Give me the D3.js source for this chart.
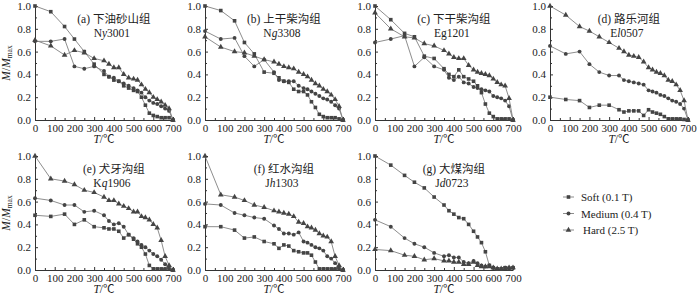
<!DOCTYPE html>
<html>
<head>
<meta charset="utf-8">
<script src="https://cdn.jsdelivr.net/npm/d3@7"></script>
<style>
  body { margin: 0; background: #fff; }
  svg text { font-family: "Liberation Serif", "Noto Sans CJK SC", serif; fill: #222; }
  .axis path, .axis line { stroke: #333; }
  .axis text { font-size: 11px; font-family: "Liberation Serif", serif; fill: #222; }
</style>
</head>
<body>
<svg id="chart" width="700" height="297"></svg>
<script>
// heating steps (deg C)
var temps = [0, 80, 150, 200, 250, 300, 350, 375, 400, 425, 450, 475, 500, 520, 540, 560, 580, 600, 620, 640, 660, 680, 700];

var panelNames = ["(a) 下油砂山组", "(b) 上干柴沟组", "(c) 下干柴沟组", "(d) 路乐河组", "(e) 犬牙沟组", "(f) 红水沟组", "(g) 大煤沟组"];
var sampleCodes = [["N", "y", "3001"], ["N", "g", "3308"], ["Eg", "", "1201"], ["E", "l", "0507"], ["K", "q", "1906"], ["J", "h", "1303"], ["J", "d", "0723"]];
var seriesNames = ["Soft (0.1 T)", "Medium (0.4 T)", "Hard (2.5 T)"];
var xTicks = [0, 100, 200, 300, 400, 500, 600, 700];
var yTicks = [0, 0.2, 0.4, 0.6, 0.8, 1.0];

var softA = [1.0, 0.95, 0.82, 0.71, 0.60, 0.49, 0.40, 0.38, 0.35, 0.34, 0.30, 0.28, 0.26, 0.25, 0.20, 0.13, 0.06, 0.04, 0.03, 0.02, 0.02, 0.02, 0];
var mediumA = [0.69, 0.69, 0.71, 0.47, 0.45, 0.47, 0.43, 0.38, 0.37, 0.34, 0.32, 0.30, 0.28, 0.26, 0.24, 0.20, 0.17, 0.15, 0.14, 0.12, 0.10, 0.08, 0];
var hardA = [0.70, 0.65, 0.57, 0.61, 0.59, 0.54, 0.52, 0.49, 0.46, 0.46, 0.40, 0.37, 0.36, 0.35, 0.31, 0.27, 0.24, 0.20, 0.18, 0.16, 0.13, 0.10, 0];

var softB = [1.0, 0.96, 0.87, 0.68, 0.58, 0.42, 0.41, 0.37, 0.34, 0.33, 0.27, 0.25, 0.25, 0.22, 0.16, 0.11, 0.05, 0.03, 0.02, 0.02, 0.02, 0.01, 0];
var mediumB = [0.78, 0.71, 0.72, 0.56, 0.47, 0.53, 0.42, 0.35, 0.34, 0.34, 0.34, 0.30, 0.28, 0.27, 0.25, 0.23, 0.21, 0.19, 0.18, 0.16, 0.13, 0.10, 0];
var hardB = [0.73, 0.64, 0.60, 0.59, 0.56, 0.53, 0.51, 0.49, 0.47, 0.46, 0.45, 0.42, 0.40, 0.38, 0.35, 0.32, 0.30, 0.27, 0.25, 0.22, 0.18, 0.12, 0];

var softC = [1.0, 0.88, 0.76, 0.73, 0.56, 0.54, 0.45, 0.40, 0.38, 0.44, 0.38, 0.36, 0.34, 0.30, 0.24, 0.14, 0.06, 0.03, 0.01, 0.01, 0.01, 0.01, 0];
var mediumC = [0.68, 0.71, 0.74, 0.47, 0.55, 0.47, 0.44, 0.37, 0.35, 0.38, 0.33, 0.32, 0.29, 0.28, 0.27, 0.26, 0.25, 0.21, 0.20, 0.19, 0.17, 0.12, 0];
var hardC = [0.94, 0.80, 0.73, 0.72, 0.67, 0.65, 0.61, 0.58, 0.55, 0.54, 0.54, 0.48, 0.44, 0.42, 0.41, 0.40, 0.39, 0.36, 0.33, 0.31, 0.30, 0.19, 0];

var softD = [0.20, 0.18, 0.17, 0.11, 0.13, 0.13, 0.09, 0.07, 0.08, 0.08, 0.08, 0.04, 0.09, 0.07, 0.06, 0.05, 0.03, 0.01, 0.01, 0.01, 0.01, 0.005, 0];
var mediumD = [0.65, 0.58, 0.60, 0.49, 0.42, 0.39, 0.39, 0.35, 0.34, 0.33, 0.32, 0.31, 0.26, 0.25, 0.24, 0.22, 0.21, 0.19, 0.17, 0.16, 0.14, 0.10, 0];
var hardD = [1.0, 0.92, 0.82, 0.78, 0.73, 0.68, 0.63, 0.60, 0.57, 0.56, 0.55, 0.51, 0.46, 0.44, 0.42, 0.41, 0.39, 0.35, 0.34, 0.31, 0.26, 0.17, 0];

var softE = [0.48, 0.47, 0.49, 0.40, 0.44, 0.38, 0.37, 0.36, 0.36, 0.34, 0.28, 0.31, 0.27, 0.23, 0.20, 0.14, 0.04, 0.01, 0.01, 0.01, 0.01, 0.01, 0];
var mediumE = [0.63, 0.61, 0.57, 0.57, 0.51, 0.52, 0.48, 0.43, 0.40, 0.41, 0.38, 0.31, 0.28, 0.25, 0.22, 0.20, 0.17, 0.14, 0.12, 0.09, 0.05, 0.02, 0];
var hardE = [1.0, 0.80, 0.78, 0.75, 0.70, 0.68, 0.64, 0.61, 0.61, 0.58, 0.56, 0.54, 0.51, 0.51, 0.47, 0.46, 0.44, 0.40, 0.37, 0.26, 0.12, 0.04, 0];

var softF = [0.38, 0.38, 0.35, 0.28, 0.29, 0.25, 0.23, 0.19, 0.22, 0.21, 0.17, 0.16, 0.15, 0.15, 0.13, 0.07, 0.01, 0.01, 0.01, 0.01, 0.01, 0.01, 0];
var mediumF = [0.58, 0.57, 0.50, 0.48, 0.46, 0.45, 0.39, 0.36, 0.32, 0.32, 0.31, 0.33, 0.25, 0.24, 0.22, 0.20, 0.19, 0.17, 0.12, 0.10, 0.06, 0.02, 0];
var hardF = [1.0, 0.66, 0.64, 0.61, 0.57, 0.55, 0.52, 0.51, 0.50, 0.49, 0.47, 0.42, 0.41, 0.38, 0.37, 0.35, 0.32, 0.30, 0.29, 0.25, 0.12, 0.04, 0];

var softG = [1.0, 0.92, 0.83, 0.77, 0.72, 0.64, 0.57, 0.52, 0.49, 0.46, 0.45, 0.40, 0.34, 0.29, 0.24, 0.16, 0.04, 0.02, 0.01, 0.01, 0.02, 0.01, 0.02];
var mediumG = [0.44, 0.38, 0.28, 0.23, 0.20, 0.15, 0.12, 0.13, 0.11, 0.11, 0.07, 0.06, 0.08, 0.06, 0.04, 0.03, 0.04, 0.02, 0.01, 0.01, 0.02, 0.02, 0.02];
var hardG = [0.18, 0.17, 0.13, 0.12, 0.09, 0.10, 0.08, 0.08, 0.07, 0.07, 0.05, 0.05, 0.07, 0.04, 0.03, 0.03, 0.03, 0.02, 0.01, 0.01, 0.01, 0.02, 0.02];

var panelData = [
  [softA, mediumA, hardA], [softB, mediumB, hardB], [softC, mediumC, hardC], [softD, mediumD, hardD],
  [softE, mediumE, hardE], [softF, mediumF, hardF], [softG, mediumG, hardG]
];

// layout
var colX = [35, 205, 375, 550];
var rowY = [6, 156];
var pw = 138, ph = 114;

var svg = d3.select("#chart");
var lineColor = "#808080", markColor = "#444";

var sym = [d3.symbolSquare, d3.symbolCircle, d3.symbolTriangle];
var symSize = [13, 12, 14];

panelData.forEach(function(series, i) {
  var col = i % 4, row = Math.floor(i / 4);
  var g = svg.append("g").attr("transform", "translate(" + colX[col] + "," + rowY[row] + ")");

  var x = d3.scaleLinear().domain([0, 700]).range([0, pw]);
  var y = d3.scaleLinear().domain([0, 1]).range([ph, 0]);

  // minor ticks
  g.append("g").attr("class", "axis").attr("transform", "translate(0," + ph + ")")
    .call(d3.axisBottom(x).tickValues(d3.range(50, 700, 100)).tickSize(-2).tickFormat(""))
    .select(".domain").remove();
  g.append("g").attr("class", "axis")
    .call(d3.axisLeft(y).tickValues(d3.range(0.1, 1, 0.2)).tickSize(-2).tickFormat(""))
    .select(".domain").remove();

  g.append("g").attr("class", "axis").attr("transform", "translate(0," + ph + ")")
    .call(d3.axisBottom(x).tickValues(xTicks).tickSize(-3).tickPadding(4).tickSizeOuter(0));
  g.append("g").attr("class", "axis")
    .call(d3.axisLeft(y).tickValues(yTicks).tickSize(-3).tickPadding(4).tickSizeOuter(0).tickFormat(d3.format(".1f")));

  var line = d3.line().x(function(d, k) { return x(temps[k]); }).y(function(d) { return y(d); });

  series.forEach(function(vals, s) {
    g.append("path").datum(vals).attr("d", line)
      .attr("fill", "none").attr("stroke", lineColor).attr("stroke-width", 0.9);
    g.selectAll(".m" + s).data(vals).enter().append("path")
      .attr("class", "m" + s)
      .attr("transform", function(d, k) { return "translate(" + x(temps[k]) + "," + y(d) + ")"; })
      .attr("d", d3.symbol().type(sym[s]).size(symSize[s]))
      .attr("fill", markColor);
  });

  // panel title
  g.append("text").attr("x", x(400)).attr("y", 17).attr("text-anchor", "middle")
    .attr("font-size", 11.5).text(panelNames[i]);
  var code = sampleCodes[i];
  var t = g.append("text").attr("x", x(390)).attr("y", 31).attr("text-anchor", "middle").attr("font-size", 11.5);
  t.append("tspan").text(code[0]);
  t.append("tspan").attr("font-style", "italic").text(code[1]);
  t.append("tspan").text(code[2]);

  // x label
  var xl = g.append("text").attr("x", pw / 2).attr("y", ph + 23).attr("text-anchor", "middle").attr("font-size", 11.5);
  xl.append("tspan").attr("font-style", "italic").text("T");
  xl.append("tspan").text("/℃");

  // y label on first column
  if (col === 0) {
    var yl = g.append("text").attr("transform", "translate(-25," + (ph / 2) + ") rotate(-90)")
      .attr("text-anchor", "middle").attr("font-size", 11.5);
    yl.append("tspan").attr("font-style", "italic").text("M");
    yl.append("tspan").text("/");
    yl.append("tspan").attr("font-style", "italic").text("M");
    yl.append("tspan").attr("font-size", 7.5).attr("dy", 2).text("max");
  }
});

// legend
var lg = svg.append("g").attr("transform", "translate(563,197)");
seriesNames.forEach(function(name, s) {
  var r = lg.append("g").attr("transform", "translate(0," + (s * 16.5) + ")");
  r.append("line").attr("x1", 0).attr("x2", 11).attr("y1", 0).attr("y2", 0)
    .attr("stroke", lineColor).attr("stroke-width", 0.9);
  r.append("path").attr("transform", "translate(5.5,0)")
    .attr("d", d3.symbol().type(sym[s]).size(symSize[s])).attr("fill", markColor);
  r.append("text").attr("x", s === 2 ? 20 : 18).attr("y", 4).attr("font-size", 11).text(name);
});
</script>
</body>
</html>
